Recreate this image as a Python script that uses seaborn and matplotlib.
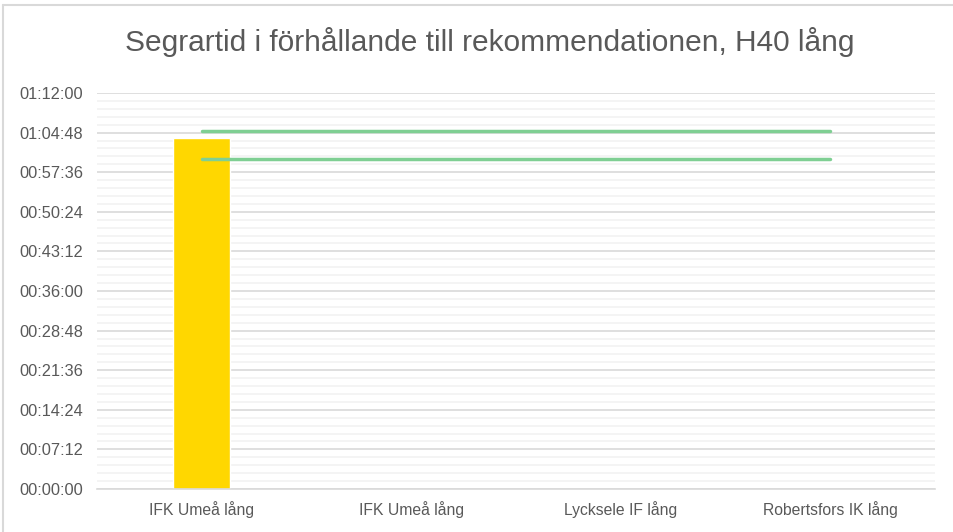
import pandas as pd
import seaborn as sns
import matplotlib.pyplot as plt
from matplotlib.ticker import FuncFormatter, MultipleLocator
from matplotlib.lines import Line2D

# Data (times in seconds)
categories = ["IFK Umeå lång", "IFK Umeå lång", "Lycksele IF lång", "Robertsfors IK lång"]
winner_time = [3830, None, None, None]
rec_upper = [3900, 3900, 3900, 3900]
rec_lower = [3600, 3600, 3600, 3600]
title = "Segrartid i förhållande till rekommendationen, H40 lång"

df = pd.DataFrame({
    "pos": range(len(categories)),
    "winner": pd.to_numeric(pd.Series(winner_time), errors="coerce"),
    "upper": rec_upper,
    "lower": rec_lower,
})

sns.set_theme(style="white")
plt.rcParams["font.family"] = ["Liberation Sans", "DejaVu Sans"]

text_col = "#595959"
fig = plt.figure(figsize=(9.54, 5.32), dpi=100)
ax = fig.add_axes([97 / 954, 1 - 489 / 532, (935 - 97) / 954, (489 - 93) / 532])

sns.barplot(data=df, x="pos", y="winner", color="#FFD700", width=0.27,
            saturation=1, ax=ax, zorder=2)
sns.lineplot(data=df, x="pos", y="upper", color="#7FCF93", linewidth=2.5, ax=ax, zorder=3)
sns.lineplot(data=df, x="pos", y="lower", color="#7FCF93", linewidth=2.5, ax=ax, zorder=3)

def hms(v, _):
    v = int(round(v))
    return f"{v // 3600:02d}:{(v % 3600) // 60:02d}:{v % 60:02d}"

ax.set_ylim(0, 4320)
ax.set_xlim(-0.5, len(categories) - 0.5)
ax.yaxis.set_major_locator(MultipleLocator(432))
ax.yaxis.set_minor_locator(MultipleLocator(86.4))
ax.yaxis.set_major_formatter(FuncFormatter(hms))
ax.grid(axis="y", which="major", color="#D9D9D9", linewidth=1.2, zorder=0)
ax.grid(axis="y", which="minor", color="#F2F2F2", linewidth=1.2, zorder=0)
ax.set_axisbelow(True)

ax.set_xticks(range(len(categories)))
ax.set_xticklabels(categories)
ax.set_xticks([i - 0.5 for i in range(len(categories) + 1)], minor=True)
ax.tick_params(axis="x", which="major", length=0, pad=8.5, labelsize=11.3, labelcolor=text_col)
ax.tick_params(axis="x", which="minor", length=5, color="#D9D9D9", width=1.2)
ax.tick_params(axis="y", which="both", length=0, pad=10, labelsize=11.8, labelcolor=text_col)

for side in ["top", "right", "left"]:
    ax.spines[side].set_visible(False)
ax.spines["bottom"].set_color("#D9D9D9")
ax.spines["bottom"].set_linewidth(1.2)
ax.set_xlabel("")
ax.set_ylabel("")

fig.text(490 / 954, 1 - 42 / 532, title, ha="center", va="center",
         fontsize=21.5, color=text_col)

# chart area border (top and left edges visible)
fig.add_artist(Line2D([3 / 954, 1], [1 - 5 / 532, 1 - 5 / 532], color="#D9D9D9", linewidth=1.5))
fig.add_artist(Line2D([3 / 954, 3 / 954], [0, 1 - 5 / 532], color="#D9D9D9", linewidth=1.5))

fig.savefig("out.png", dpi=100)
